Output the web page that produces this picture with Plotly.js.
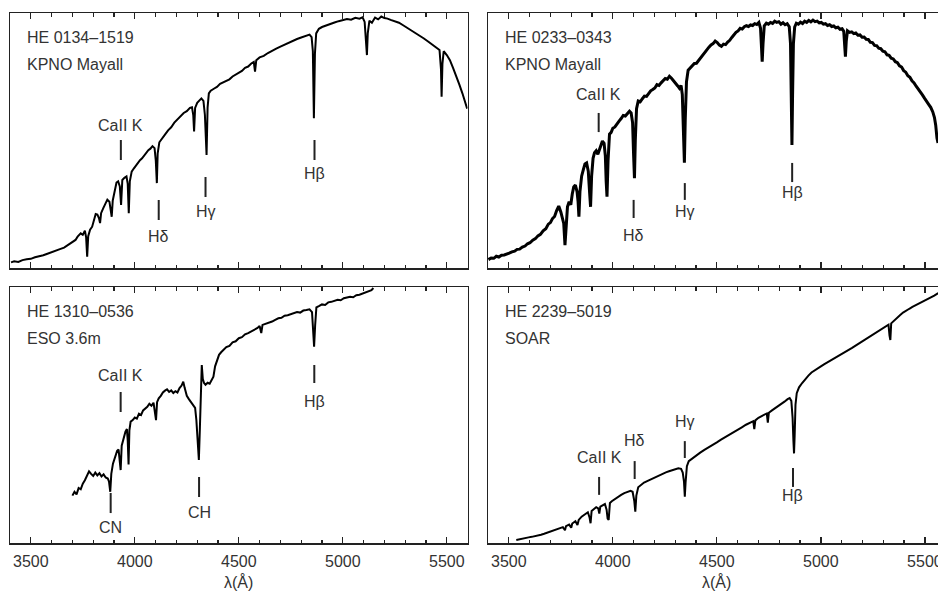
<!DOCTYPE html>
<html>
<head>
<meta charset="utf-8">
<script src="https://cdn.plot.ly/plotly-3.0.1.min.js"></script>
<style>html,body{margin:0;padding:0;background:#fff;}#chart{width:938px;height:592px;}</style>
</head>
<body>
<div id="chart"></div>
<script>
// ---------------- DATA ----------------
// Panel 1: HE 0134-1519, KPNO Mayall (relative flux, 0-100)
const wave1 = [3405,3420,3440,3460,3480,3500,3520,3540,3560,3580,3600,3620,3640,3660,3680,3700,3715,3725,3740,3750,3760,3766,3771,3776,3785,3795,3800,3806,3812,3820,3828,3833,3838,3848,3858,3868,3878,3884,3889,3894,3902,3912,3920,3928,3934,3940,3950,3960,3966,3971,3976,3985,3995,4005,4015,4025,4035,4045,4055,4065,4075,4085,4095,4101,4106,4110,4118,4130,4145,4160,4175,4190,4205,4220,4235,4250,4265,4275,4281,4285,4290,4300,4310,4320,4330,4337,4345,4350,4356,4365,4380,4395,4410,4425,4440,4455,4470,4485,4500,4515,4530,4545,4560,4572,4578,4584,4600,4620,4640,4660,4680,4700,4720,4740,4760,4780,4800,4820,4840,4850,4856,4861,4866,4872,4885,4900,4920,4940,4960,4980,5000,5020,5040,5060,5080,5095,5105,5112,5116,5120,5128,5140,5155,5170,5185,5200,5215,5230,5250,5270,5290,5310,5330,5350,5370,5390,5410,5430,5450,5465,5472,5475,5479,5485,5500,5515,5530,5545,5560,5575,5590,5598];
const flux1 = [2.2,2.6,2.4,3.1,3.4,3.6,4.2,4.5,5.0,5.6,6.1,6.6,7.4,8.0,9.0,10.2,11.0,12.3,13.6,13.0,14.6,12.0,4.4,12.5,15.0,16.2,18.0,19.8,21.2,21.0,19.5,17.6,21.5,23.4,25.5,26.8,26.0,23.5,20.1,26.5,30.2,33.5,34.0,32.0,24.7,34.5,35.4,35.9,33.0,21.5,34.0,37.8,39.0,40.2,41.0,42.3,43.0,44.1,45.0,46.2,46.8,47.8,47.0,42.0,33.3,45.0,49.3,50.5,52.3,54.0,55.2,57.0,58.2,59.3,60.8,61.5,62.8,63.0,60.0,53.5,62.8,64.8,65.6,66.5,65.5,60.0,44.3,63.0,68.5,69.5,70.3,71.0,72.2,72.8,73.5,74.0,75.1,75.8,76.5,77.3,78.5,79.0,80.2,80.8,77.0,81.5,82.6,83.2,84.3,85.0,86.0,86.8,87.6,88.3,89.0,89.8,90.4,91.0,91.5,90.5,85.0,58.7,84.0,92.0,93.8,94.5,95.2,95.7,96.3,96.8,97.2,97.6,97.4,98.1,97.8,98.3,96.5,88.0,83.5,92.0,97.0,96.2,98.2,97.5,98.6,98.0,97.8,97.3,96.8,96.2,95.2,94.2,93.2,92.2,91.0,90.0,88.8,87.6,86.3,85.5,78.0,67.2,80.0,85.0,83.5,81.5,78.5,75.5,72.0,68.5,64.5,62.5];

// Panel 2: HE 0233-0343, KPNO Mayall
const wave2 = [3402,3415,3428,3440,3452,3465,3478,3490,3502,3515,3528,3540,3552,3565,3578,3590,3602,3615,3628,3640,3652,3665,3678,3690,3700,3710,3720,3730,3740,3750,3757,3764,3770,3776,3782,3790,3798,3805,3812,3820,3828,3833,3837,3842,3850,3858,3866,3874,3882,3888,3893,3898,3905,3912,3920,3928,3935,3942,3950,3958,3964,3968,3972,3977,3984,3992,4000,4010,4020,4030,4040,4050,4060,4070,4080,4088,4095,4100,4104,4108,4114,4122,4132,4142,4152,4162,4172,4182,4192,4202,4212,4222,4232,4242,4252,4262,4272,4282,4292,4302,4312,4320,4328,4334,4340,4344,4348,4354,4362,4372,4382,4392,4402,4412,4422,4432,4442,4452,4462,4472,4482,4492,4502,4512,4522,4532,4542,4552,4562,4572,4582,4592,4602,4612,4622,4632,4642,4652,4662,4672,4682,4692,4702,4710,4715,4718,4722,4728,4738,4748,4758,4768,4778,4788,4798,4808,4818,4828,4838,4848,4854,4858,4861,4864,4868,4874,4882,4892,4902,4912,4922,4932,4942,4952,4962,4972,4982,4992,5002,5012,5022,5032,5042,5052,5062,5072,5082,5092,5102,5110,5115,5118,5122,5128,5138,5148,5158,5168,5178,5188,5198,5208,5218,5228,5238,5248,5258,5268,5278,5288,5298,5308,5318,5328,5338,5348,5358,5368,5378,5388,5398,5408,5418,5428,5438,5448,5458,5468,5478,5488,5498,5508,5518,5528,5538,5546,5552,5558,5563];
const flux2 = [3.3,3.9,3.8,4.6,4.3,5.0,5.1,5.6,5.8,6.3,6.6,7.3,7.4,8.2,8.6,9.5,9.9,10.9,11.5,12.6,13.2,14.6,15.4,17.2,17.8,19.4,20.2,22.5,24.3,22.0,19.0,17.5,9.0,18.0,24.0,26.0,24.8,29.0,31.8,32.5,30.0,26.0,20.1,30.0,36.0,38.5,40.8,41.2,38.0,30.0,24.0,36.0,43.0,45.2,46.0,44.6,46.5,48.4,49.8,48.9,44.0,34.0,28.0,42.0,52.5,53.2,54.8,55.3,56.6,57.6,58.6,59.8,59.6,60.4,61.5,60.8,57.0,44.0,35.2,50.0,62.5,65.5,65.2,66.4,67.4,67.3,68.6,69.5,70.0,70.6,71.9,71.6,72.6,73.5,74.3,74.0,75.2,74.4,73.5,72.4,71.4,70.5,71.6,68.0,55.0,41.3,58.0,73.0,77.6,78.4,79.3,80.2,80.3,81.4,82.2,83.6,84.6,85.4,86.6,87.5,88.0,89.0,88.4,87.4,86.9,87.8,87.6,88.6,89.3,90.4,91.5,92.4,93.0,94.0,93.7,94.6,95.0,94.7,95.3,95.1,95.8,95.5,96.3,94.0,86.0,80.9,88.0,95.0,96.0,95.6,96.3,95.9,96.8,96.3,96.6,95.6,96.2,95.4,95.8,94.6,88.0,70.0,48.2,68.0,88.0,94.5,96.0,95.6,96.4,95.9,96.8,96.3,97.1,96.5,97.2,96.6,96.8,96.1,96.3,95.6,95.8,95.1,95.4,94.7,94.9,94.2,94.4,93.6,93.8,92.8,88.0,82.9,89.0,93.0,92.4,92.6,91.9,92.2,91.3,91.4,90.5,90.6,89.7,89.6,88.5,88.4,87.3,87.2,86.2,86.0,85.0,84.8,83.6,83.4,82.3,82.0,80.9,80.5,79.3,78.8,77.4,76.8,75.4,74.8,73.4,72.6,71.3,70.3,68.9,67.9,66.6,65.6,64.2,63.0,61.2,59.0,56.0,51.0,49.0];

// Panel 3: HE 1310-0536, ESO 3.6m
const wave3 = [3700,3710,3720,3730,3740,3750,3760,3770,3780,3790,3800,3810,3820,3830,3840,3850,3860,3870,3876,3882,3887,3895,3905,3915,3922,3927,3932,3937,3945,3955,3962,3966,3970,3974,3980,3990,4000,4010,4020,4030,4040,4050,4060,4070,4080,4090,4096,4102,4107,4115,4125,4135,4145,4155,4165,4175,4185,4195,4205,4215,4225,4233,4240,4250,4260,4270,4280,4290,4296,4302,4308,4313,4318,4322,4327,4333,4340,4350,4360,4370,4378,4386,4395,4405,4415,4425,4440,4455,4470,4485,4500,4515,4530,4545,4560,4575,4590,4600,4608,4614,4630,4645,4660,4675,4690,4705,4720,4735,4750,4765,4780,4795,4810,4825,4840,4852,4857,4862,4867,4873,4885,4900,4915,4930,4945,4960,4975,4990,5005,5020,5035,5050,5065,5080,5095,5110,5125,5138,5147];
const flux3 = [18.5,20.0,19.0,21.5,21.0,23.2,24.5,26.5,28.0,27.0,26.2,27.5,26.4,27.3,26.0,26.8,25.6,25.2,24.0,20.0,27.0,31.0,34.0,36.0,36.5,33.0,28.5,38.0,41.0,43.5,44.5,40.0,30.7,44.0,47.4,48.0,49.0,48.6,50.5,50.0,51.8,52.5,53.2,54.4,53.6,54.8,52.0,48.0,55.0,56.5,57.5,58.8,59.5,60.0,59.0,59.6,58.6,59.3,58.8,60.5,61.5,63.0,60.5,57.5,56.2,55.0,53.8,52.8,48.0,38.0,32.4,45.0,66.0,69.5,64.0,62.5,61.8,62.6,62.2,63.7,65.0,69.0,71.0,73.5,74.5,75.2,76.5,77.0,78.4,78.8,80.0,80.4,81.5,82.0,82.6,83.5,84.0,84.8,82.0,85.2,85.6,86.0,86.5,87.2,87.8,88.0,88.8,89.0,89.4,89.8,90.2,90.0,90.8,91.0,91.3,90.2,84.0,76.7,85.0,92.0,92.5,93.2,93.0,94.0,94.2,94.6,95.0,94.8,95.6,95.9,96.2,96.0,96.8,97.0,97.4,98.0,98.2,98.8,99.6];

// Panel 4: HE 2239-5019, SOAR
const wave4 = [3536,3550,3565,3580,3595,3610,3625,3640,3655,3670,3685,3700,3715,3730,3745,3760,3770,3775,3790,3800,3805,3820,3830,3836,3850,3865,3880,3888,3893,3898,3910,3920,3930,3935,3940,3950,3962,3970,3975,3980,3986,3995,4010,4025,4040,4055,4070,4085,4095,4103,4108,4113,4122,4135,4150,4165,4180,4195,4210,4225,4240,4255,4270,4285,4300,4315,4328,4336,4342,4346,4350,4356,4365,4380,4400,4420,4440,4460,4480,4500,4520,4540,4560,4580,4600,4620,4640,4660,4675,4680,4685,4700,4715,4730,4740,4745,4750,4765,4780,4795,4810,4825,4840,4850,4858,4864,4868,4871,4874,4878,4884,4895,4910,4925,4940,4955,4970,4985,5000,5015,5030,5045,5060,5075,5090,5105,5120,5135,5150,5165,5180,5195,5210,5225,5240,5255,5270,5285,5300,5315,5325,5330,5334,5338,5350,5365,5380,5395,5410,5425,5440,5455,5470,5485,5500,5515,5530,5545,5560,5565];
const flux4 = [1.2,1.5,1.6,2.0,2.2,2.4,2.6,3.0,3.2,3.6,4.0,4.4,4.9,5.2,5.8,6.2,5.0,6.6,7.2,6.0,7.6,8.5,7.0,9.0,10.3,11.2,12.0,10.0,7.7,12.5,13.5,14.0,13.5,11.5,14.2,14.8,15.2,13.0,9.5,9.0,15.6,16.3,17.2,18.0,18.8,19.5,20.0,20.4,20.0,16.5,12.2,18.5,21.8,22.8,23.6,24.2,24.8,25.2,25.8,26.5,27.0,27.6,28.0,28.4,28.9,29.2,29.0,27.5,24.0,18.1,24.0,30.0,32.0,33.0,34.3,35.3,36.4,37.3,38.4,39.3,40.4,41.3,42.4,43.4,44.3,45.2,46.2,47.0,47.6,44.5,47.9,48.9,49.5,50.3,50.6,47.0,50.9,51.8,52.6,53.4,54.3,55.2,56.2,56.6,55.5,49.0,40.0,35.0,42.0,54.0,58.5,60.8,62.5,64.2,65.4,66.6,67.5,68.4,69.0,69.8,70.5,71.2,72.0,72.6,73.2,73.8,74.6,75.3,76.2,77.0,77.8,78.5,79.3,80.0,80.9,81.8,82.6,83.4,84.2,85.0,85.3,81.0,79.3,85.8,86.8,88.0,89.0,90.0,90.6,91.5,92.2,92.8,93.5,94.0,94.6,95.2,95.8,96.6,97.4,97.6];

const starNames = ["HE 0134–1519","HE 0233–0343","HE 1310–0536","HE 2239–5019"];
const telescopes = ["KPNO Mayall","KPNO Mayall","ESO 3.6m","SOAR"];
const xTickVals = [3500,4000,4500,5000,5500];
const xTitle = "λ(Å)";

// line identifications per panel: label, wavelength
const ids1 = [["CaII K",3933],["Hδ",4115],["Hγ",4340],["Hβ",4864]];
const ids2 = [["CaII K",3932],["Hδ",4100],["Hγ",4346],["Hβ",4862]];
const ids3 = [["CaII K",3932],["CN",3884],["CH",4309],["Hβ",4863]];
const ids4 = [["CaII K",3934],["Hδ",4105],["Hγ",4346],["Hβ",4866]];

// ---------------- LAYOUT HELPERS ----------------
const W = 938, H = 592;
const px = v => v / W;
const py = v => 1 - v / H;
const FONT = {family: "Liberation Sans, Arial, Helvetica, sans-serif", size: 16, color: "#333"};

// panel frames in pixels
const panels = [
  {x0:10, x1:467.6, y0:13, y1:268, range:[3400,5600], mirrorY:true, labels:false, lw:2.0},
  {x0:488, x1:938, y0:13, y1:268, range:[3400,5563], mirrorY:false, labels:false, lw:3.0},
  {x0:10, x1:467.6, y0:287, y1:543, range:[3400,5600], mirrorY:true, labels:true, lw:2.0},
  {x0:488, x1:938, y0:287, y1:543, range:[3400,5563], mirrorY:false, labels:true, lw:2.0}
];
// vertical placement (in flux units) of the id marks: [tickTop, tickBottom, labelY]
const idPos = [
  [[50.2,42.4,56.0],[26.7,18.8,12.2],[35.7,27.8,22.0],[50.2,42.4,36.9]],
  [[60.8,53.3,68.2],[26.7,19.6,12.9],[33.3,26.7,22.0],[41.2,33.7,29.8]],
  [[59.0,51.2,65.6],[19.5,11.7,6.2],[25.8,18.0,12.1],[69.5,62.5,55.1]],
  [[25.8,18.8,33.3],[32.0,25.0,40.2],[39.8,33.2,47.4],[29.3,21.9,18.5]]
];
const waves = [wave1,wave2,wave3,wave4];
const fluxes = [flux1,flux2,flux3,flux4];
const ids = [ids1,ids2,ids3,ids4];

const layout = {
  width: W, height: H,
  margin: {l:0, r:0, t:0, b:0},
  paper_bgcolor: "#fff", plot_bgcolor: "#fff",
  showlegend: false,
  font: FONT,
  shapes: [], annotations: []
};
const data = [];

panels.forEach((p, i) => {
  const n = i + 1;
  const xa = "xaxis" + (n === 1 ? "" : n), ya = "yaxis" + (n === 1 ? "" : n);
  const xr = "x" + (n === 1 ? "" : n), yr = "y" + (n === 1 ? "" : n);
  layout[xa] = {
    domain: [px(p.x0), px(p.x1)], anchor: yr, range: p.range,
    showline: true, linecolor: "#222", linewidth: 1.5, mirror: "ticks",
    ticks: "inside", ticklen: 6, tickwidth: 1.3, tickcolor: "#222",
    tickmode: "array", tickvals: xTickVals,
    minor: {dtick: 100, tick0: 3400, ticks: "inside", ticklen: 3.5, tickwidth: 1.2, tickcolor: "#222"},
    showticklabels: p.labels, tickfont: FONT, ticklabelstandoff: 3,
    ticklabeloverflow: "allow",
    showgrid: false, zeroline: false, fixedrange: true
  };
  layout[ya] = {
    domain: [py(p.y1), py(p.y0)], anchor: xr, range: [0, 100],
    showline: true, linecolor: "#222", linewidth: 1.5, mirror: p.mirrorY,
    ticks: "", showticklabels: false, showgrid: false, zeroline: false, fixedrange: true
  };
  data.push({
    x: waves[i], y: fluxes[i], type: "scatter", mode: "lines",
    xaxis: xr, yaxis: yr,
    line: {color: "#000", width: p.lw}, hoverinfo: "skip"
  });
  // x-axis title (placed as text under the tick labels, at the bottom edge)
  if (p.labels) {
    const mid = p.x0 + 228.8;
    layout.annotations.push({xref:"paper", yref:"paper", x: px(mid), y: 0, xanchor:"center", yanchor:"bottom", borderpad: 0, text: xTitle, showarrow:false, font: FONT});
  }
  // star name + telescope
  const lx = p.x0 + 15;
  layout.annotations.push({xref:"paper", yref:"paper", x: px(lx), y: py(p.y0 + 25), xanchor:"left", yanchor:"middle", text: starNames[i], showarrow:false, font: FONT});
  layout.annotations.push({xref:"paper", yref:"paper", x: px(lx), y: py(p.y0 + 51), xanchor:"left", yanchor:"middle", text: telescopes[i], showarrow:false, font: FONT});
  // line identifications
  ids[i].forEach((id, k) => {
    const pos = idPos[i][k];
    layout.shapes.push({type:"line", xref: xr, yref: yr, x0: id[1], x1: id[1], y0: pos[1], y1: pos[0], line:{color:"#222", width:2}});
    layout.annotations.push({xref: xr, yref: yr, x: id[1], y: pos[2], text: id[0], showarrow:false, xanchor:"center", yanchor:"middle", font: FONT});
  });
});

Plotly.newPlot("chart", data, layout, {displayModeBar:false, staticPlot:true});
</script>
</body>
</html>
